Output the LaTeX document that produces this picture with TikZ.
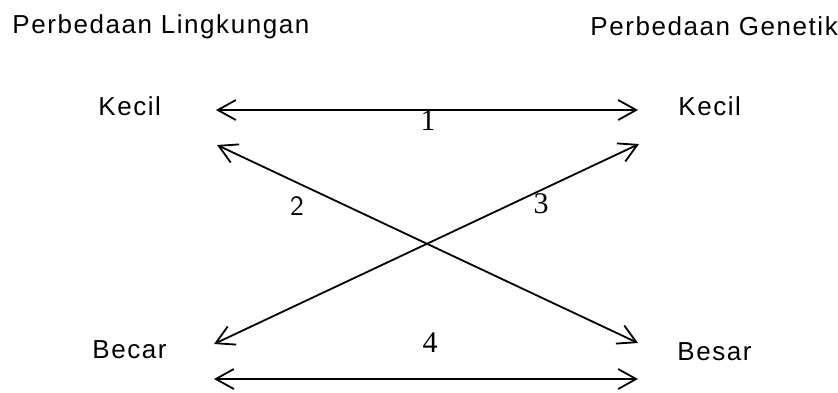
\documentclass[tikz,border=0pt]{standalone}
\usepackage{fontspec}
\setmainfont{Liberation Sans}
\newfontfamily\lblfont[LetterSpace=6]{Liberation Sans}
\newfontfamily\numfont{Liberation Serif}
\usetikzlibrary{arrows.meta}

\begin{document}
\begin{tikzpicture}[
    x=0.5pt, y=-0.5pt,
    >={Straight Barb[length=9pt, width=10pt]},
    lbl/.style={inner sep=0pt, anchor=base west, font=\fontsize{13}{15}\selectfont\lblfont},
    num/.style={inner sep=0pt, anchor=base, font=\fontsize{15}{17}\selectfont\numfont},
    link/.style={<->, line width=0.9pt},
]
    \useasboundingbox (0,0) rectangle (838,392);

    % Headings
    \node[lbl] (lingkungan) at (12,33) {Perbedaan Lingkungan};
    \node[lbl] (genetik) at (590,35) {Perbedaan Genetik};

    % Levels
    \node[lbl] (kecilL) at (98,115) {Kecil};
    \node[lbl] (becarL) at (92,358) {Becar};
    \node[lbl] (kecilR) at (678,115) {Kecil};
    \node[lbl] (besarR) at (677,360) {Besar};

    % Arrow ends
    \coordinate (a1L) at (216,110);
    \coordinate (a1R) at (638,110);
    \coordinate (a2L) at (217,145);
    \coordinate (a2R) at (638,343);
    \coordinate (a3L) at (214,344);
    \coordinate (a3R) at (639,144);
    \coordinate (a4L) at (214,379);
    \coordinate (a4R) at (638,379);

    \draw[link] (a1L) -- (a1R);
    \draw[link] (a2L) -- (a2R);
    \draw[link] (a3L) -- (a3R);
    \draw[link] (a4L) -- (a4R);

    % Numbers
    \node[num] (n1) at (428,130) {1};
    \node[num, font=\fontsize{14}{16}\selectfont\sffamily] (n2) at (297,215) {2};
    \node[num] (n3) at (541,213) {3};
    \node[num] (n4) at (430,352) {4};
\end{tikzpicture}
\end{document}
